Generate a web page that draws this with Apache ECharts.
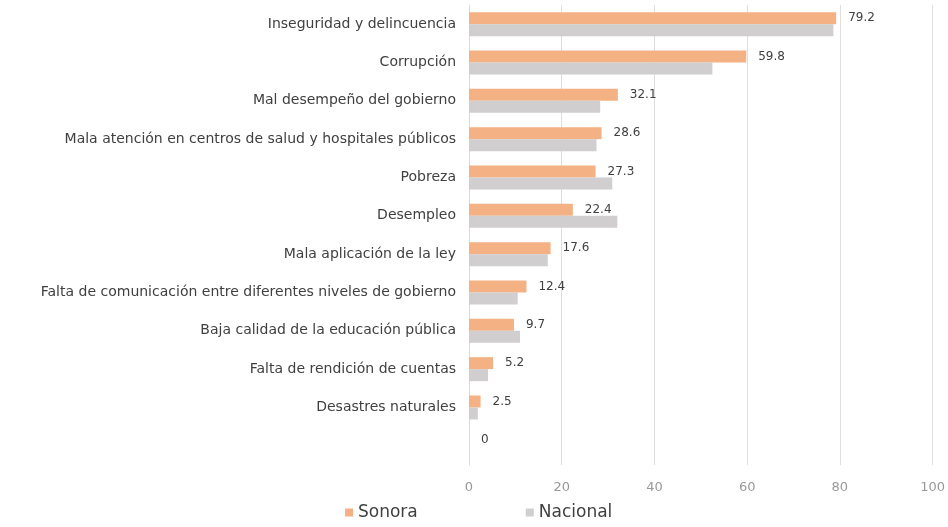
<!DOCTYPE html>
<html>
<head>
<meta charset="utf-8">
<script src="https://cdn.jsdelivr.net/npm/echarts@6/dist/echarts.min.js"></script>
<style>
    html, body { margin: 0; padding: 0; background: #fff; }
    #chart { width: 948px; height: 527px; }
</style>
</head>
<body>
<div id="chart"></div>
<script>
var categories = [
    "Inseguridad y delincuencia",
    "Corrupción",
    "Mal desempeño del gobierno",
    "Mala atención en centros de salud y hospitales públicos",
    "Pobreza",
    "Desempleo",
    "Mala aplicación de la ley",
    "Falta de comunicación entre diferentes niveles de gobierno",
    "Baja calidad de la educación pública",
    "Falta de rendición de cuentas",
    "Desastres naturales",
    ""
];
var sonora = [79.2, 59.8, 32.1, 28.6, 27.3, 22.4, 17.6, 12.4, 9.7, 5.2, 2.5, 0];
var nacional = [78.6, 52.5, 28.3, 27.5, 30.9, 32.0, 17.0, 10.5, 11.0, 4.1, 1.9, 0];
var xTicks = [0, 20, 40, 60, 80, 100];

var fontName = "'DejaVu Sans', sans-serif";
var dom = document.getElementById("chart");
var myChart = echarts.init(dom);
var option = {
    animation: false,
    textStyle: { fontFamily: fontName },
    legend: {
        data: ['Sonora', 'Nacional'],
        left: 340,
        bottom: 1,
        itemWidth: 8,
        itemHeight: 8,
        itemGap: 108,
        icon: 'rect',
        textStyle: { fontSize: 17, color: '#404040', fontFamily: fontName }
    },
    grid: {
        left: 469,
        right: 14,
        top: 5,
        bottom: 62,
        containLabel: false
    },
    xAxis: {
        type: 'value',
        min: xTicks[0],
        max: xTicks[xTicks.length - 1],
        interval: 20,
        axisLine: { show: false },
        axisTick: { show: false },
        axisLabel: { color: '#999999', fontSize: 13, margin: 16, fontFamily: fontName },
        splitLine: { lineStyle: { color: '#dedede', width: 1 } }
    },
    yAxis: {
        type: 'category',
        data: categories,
        inverse: true,
        axisLine: { show: true, lineStyle: { color: '#d9d9d9' } },
        axisTick: { show: false },
        axisLabel: { color: '#404040', fontSize: 14, margin: 13, fontFamily: fontName }
    },
    series: [
        {
            name: 'Sonora',
            type: 'bar',
            data: sonora,
            barWidth: 12,
            barGap: '0%',
            itemStyle: { color: '#F4B183' },
            label: {
                show: true,
                position: 'right',
                distance: 12,
                color: '#404040',
                fontSize: 12,
                fontFamily: fontName
            }
        },
        {
            name: 'Nacional',
            type: 'bar',
            data: nacional,
            barWidth: 12,
            barGap: '0%',
            itemStyle: { color: '#D0CECE' }
        }
    ]
};
myChart.setOption(option, true);
</script>
</body>
</html>
